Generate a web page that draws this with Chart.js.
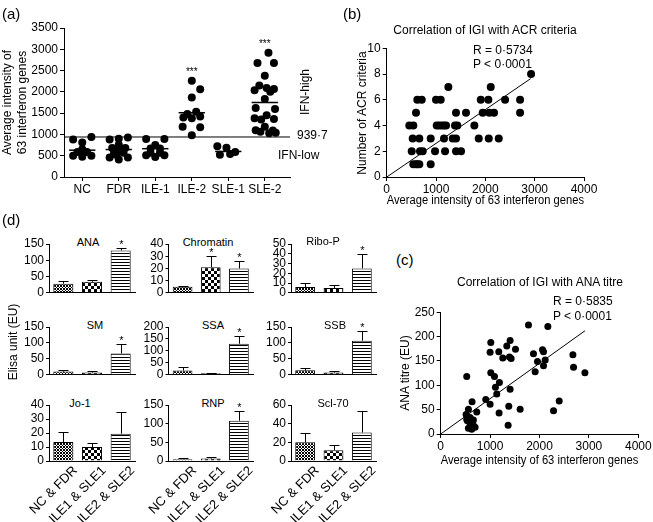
<!DOCTYPE html>
<html>
<head>
<meta charset="utf-8">
<script src="https://cdn.jsdelivr.net/npm/chart.js@4/dist/chart.umd.min.js"></script>
<style>
html, body { margin: 0; padding: 0; background: #fff; }
body { width: 653px; height: 522px; position: relative; overflow: hidden; font-family: "Liberation Sans", Arial, sans-serif; color: #000; }
canvas { position: absolute; }
.t { position: absolute; white-space: nowrap; font-size: 12px; line-height: 1; }
.c { transform: translate(-50%, -50%); }
.l { transform: translateY(-50%); }
.v { transform: translate(-50%, -50%) rotate(-90deg); }
.p { font-size: 15px; }
.s { font-size: 11px; }
</style>
</head>
<body>
<canvas id="chA" style="left:0px;top:0px" width="330" height="200"></canvas>
<canvas id="chB" style="left:335px;top:18px" width="318" height="190"></canvas>
<canvas id="chC" style="left:395px;top:288px" width="258" height="180"></canvas>

<div class="t l p" style="left:2px;top:13px">(a)</div>
<div class="t l" style="left:297px;top:135px">939·7</div>
<div class="t v" style="left:305px;top:92px">IFN-high</div>
<div class="t l" style="left:278px;top:155px">IFN-low</div>

<div class="t l p" style="left:343px;top:13px">(b)</div>
<div class="t c" style="left:485px;top:30px">Correlation of IGI with ACR criteria</div>
<div class="t v" style="left:362px;top:113px">Number of ACR criteria</div>
<div class="t l" style="left:473px;top:50px">R = 0·5734</div>
<div class="t l" style="left:473px;top:64px">P &lt; 0·0001</div>

<div class="t l p" style="left:396px;top:259px">(c)</div>
<div class="t c" style="left:540px;top:282px">Correlation of IGI with ANA titre</div>
<div class="t v" style="left:405px;top:373px">ANA titre (EU)</div>
<div class="t l" style="left:553px;top:301px">R = 0·5835</div>
<div class="t l" style="left:553px;top:316px">P &lt; 0·0001</div>

<div class="t l p" style="left:2px;top:219px">(d)</div>
<div class="t v" style="left:13px;top:342px">Elisa unit (EU)</div>
<div class="t c s" style="left:88px;top:242px">ANA</div>
<div class="t c s" style="left:208px;top:242px">Chromatin</div>
<div class="t c s" style="left:323px;top:241px">Ribo-P</div>
<div class="t c s" style="left:95px;top:325px">SM</div>
<div class="t c s" style="left:213px;top:325px">SSA</div>
<div class="t c s" style="left:335px;top:325px">SSB</div>
<div class="t c s" style="left:80px;top:403px">Jo-1</div>
<div class="t c s" style="left:213px;top:403px">RNP</div>
<div class="t c s" style="left:333px;top:403px">Scl-70</div>

<script>
// ---- (a) IGI per group ----
const groupsA = ['NC', 'FDR', 'ILE-1', 'ILE-2', 'SLE-1', 'SLE-2'];
const ncVals   = [880, 810, 940, 500, 475, 500, 590, 590, 650];
const ncJit    = [-0.25, 0, 0.25, -0.25, 0, 0.25, -0.13, 0.13, 0];
const fdrVals  = [880, 900, 930, 460, 410, 460, 560, 570, 620, 680, 680, 760, 520, 600];
const fdrJit   = [-0.25, 0, 0.25, -0.25, 0, 0.25, -0.13, 0.13, 0, -0.18, 0.18, 0, -0.07, 0.07];
const ile1Vals = [890, 890, 750, 670, 670, 510, 470, 510, 570, 570];
const ile1Jit  = [-0.25, 0.25, 0, -0.13, 0.13, -0.25, 0, 0.25, -0.13, 0.13];
const ile2Vals = [2260, 2060, 1870, 1480, 1420, 1530, 1400, 1180, 1170, 1380, 980];
const ile2Jit  = [0, 0.23, 0, -0.12, 0.23, 0.12, -0.23, -0.25, 0.23, 0, 0];
const sle1Vals = [720, 685, 590, 520, 540];
const sle1Jit  = [-0.3, -0.05, 0.19, -0.23, 0.05];
const sle2Vals = [2920, 2680, 2680, 2380, 2150, 2090, 2070, 2040, 2000, 1830, 1620, 1600, 1450, 1380, 1350, 1360, 1180, 1100, 1090, 1060, 1030, 1040];
const sle2Jit  = [0.1, -0.2, 0.25, 0, -0.15, 0.05, 0.25, -0.28, 0.15, 0, -0.25, 0.28, 0.05, -0.28, -0.1, 0.25, 0, -0.25, 0.22, -0.12, 0.12, 0.3];
const meansA   = [630, 645, 665, 1510, 600, 1750];
const starredA = [false, false, false, true, false, true];
const cutoffA  = 939.7;
const ticksA   = [0, 500, 1000, 1500, 2000, 2500, 3000, 3500];

// ---- (b) IGI vs ACR criteria ----
const acrIgi   = [2927, 1250, 2109, 621, 710, 1000, 1095, 1907, 2061, 2400, 2704,
                  594, 1405, 1608, 1947, 2081, 2176, 2704,
                  458, 540, 1014, 1060, 1115, 1160, 1203, 1385, 1432, 1777,
                  527, 661, 892, 1162, 1339, 1405, 1866, 2069, 2272,
                  507, 675, 730, 980, 1183, 1405, 1507,
                  540, 594, 661, 892, 620];
const acrCount = [8, 7, 7, 6, 6, 6, 6, 6, 6, 6, 6,
                  5, 5, 5, 5, 5, 5, 5,
                  4, 4, 4, 4, 4, 4, 4, 4, 4, 4,
                  3, 3, 3, 3, 3, 3, 3, 3, 3,
                  2, 2, 2, 2, 2, 2, 2,
                  1, 1, 1, 1, 1];
const acrFitX  = [0, 2920];
const acrFitY  = [0, 7.65];
const ticksBx  = [0, 1000, 2000, 3000, 4000];
const ticksBy  = [0, 2, 4, 6, 8, 10];

// ---- (c) IGI vs ANA titre ----
const anaIgi   = [527, 1777, 2169, 1014, 1405, 1338, 1000, 1176, 1257, 1392, 1426, 1514, 1878, 2061, 2081, 1959, 2115, 1912, 2081, 2676,
                  2689, 2919, 1014, 1088, 1189, 1108, 1405, 1135, 912, 635, 561, 730, 1000, 1182, 1378, 1608, 2284, 2399, 1365, 514,
                  527, 595, 662, 561, 628, 696, 649, 540, 600];
const anaTitre = [118, 224, 221, 188, 192, 181, 168, 169, 156, 158, 155, 174, 165, 173, 169, 149, 152, 128, 140, 163,
                  137, 126, 126, 118, 106, 96, 92, 82, 71, 66, 51, 45, 61, 43, 57, 51, 48, 68, 18, 40,
                  30, 34, 29, 12, 10, 14, 22, 27, 20];
const anaFitX  = [0, 2920];
const anaFitY  = [0, 212];
const ticksCy  = [0, 50, 100, 150, 200, 250];

// ---- (d) ELISA units ----
const groupsD = ['NC & FDR', 'ILE1 & SLE1', 'ILE2 & SLE2'];
const anaMean = [28, 34, 130],     anaErr = [35, 40, 138],     anaStar = [0, 0, 1], anaTicks = [0, 50, 100, 150];
const chrMean = [5, 21, 20],       chrErr = [5.6, 30, 26],     chrStar = [0, 1, 1], chrTicks = [0, 10, 20, 30, 40];
const ribMean = [6, 5, 25],        ribErr = [10, 7.5, 40],     ribStar = [0, 0, 1], ribTicks = [0, 10, 20, 30, 40, 50];
const smMean  = [10, 7, 67],       smErr  = [14, 11, 98],      smStar  = [0, 0, 1], smTicks  = [0, 50, 100, 150];
const ssaMean = [18, 7, 130],      ssaErr = [32, 8, 162],      ssaStar = [0, 0, 1], ssaTicks = [0, 50, 100, 150, 200];
const ssbMean = [14, 7, 107],      ssbErr = [20, 11, 136],     ssbStar = [0, 0, 1], ssbTicks = [0, 50, 100, 150];
const joMean  = [13.5, 10, 19.5],  joErr  = [20.5, 13, 35],    joStar  = [0, 0, 0], joTicks  = [0, 10, 20, 30, 40];
const rnpMean = [5, 7, 108],       rnpErr = [9, 10, 133],      rnpStar = [0, 0, 1], rnpTicks = [0, 50, 100, 150];
const sclMean = [20, 11.5, 30.5],  sclErr = [30.5, 17.5, 54],  sclStar = [0, 0, 0], sclTicks = [0, 20, 40, 60];

const FONT = '"Liberation Sans", Arial, Helvetica, sans-serif';
Chart.defaults.font.family = FONT;
Chart.defaults.font.size = 12;
Chart.defaults.color = '#000';
Chart.defaults.animation = false;
Chart.defaults.plugins.legend.display = false;
Chart.defaults.plugins.tooltip.enabled = false;

function fixTicks(list) { return scale => { scale.ticks = list.map(v => ({ value: v })); }; }
function fitW(w) { return scale => { scale.width = w; }; }
function fitH(h) { return scale => { scale.height = h; }; }
const plain = v => String(v);
const blackBorder = { display: true, color: '#000', width: 1 };
const outTicks = (len) => ({ drawOnChartArea: false, drawTicks: true, tickLength: len, color: '#000', lineWidth: 1 });

// (a)
const valsA = [ncVals, fdrVals, ile1Vals, ile2Vals, sle1Vals, sle2Vals];
const jitA = [ncJit, fdrJit, ile1Jit, ile2Jit, sle1Jit, sle2Jit];
const xMinA = 0.5, xMaxA = 6.69;
const dotsA = [];
valsA.forEach((vals, k) => vals.forEach((v, i) => dotsA.push({ x: k + 1 + jitA[k][i], y: v })));
const lineSets = meansA.map((m, k) => ({
  type: 'line', data: [{ x: k + 1 - 0.36, y: m }, { x: k + 1 + 0.36, y: m }],
  borderColor: '#000', borderWidth: 1.5, pointRadius: 0, showLine: true
}));

const starsA = {
  id: 'starsA',
  afterDatasetsDraw(chart) {
    const { ctx, scales: { x, y } } = chart;
    ctx.save();
    ctx.fillStyle = '#000';
    ctx.font = '10px ' + FONT;
    ctx.textAlign = 'center';
    ctx.textBaseline = 'alphabetic';
    starredA.forEach((s, k) => {
      if (!s) return;
      const top = Math.max(...valsA[k]);
      ctx.fillText('***', x.getPixelForValue(k + 1), y.getPixelForValue(top) - 6);
    });
    ctx.restore();
  }
};

new Chart(document.getElementById('chA'), {
  type: 'scatter',
  data: {
    datasets: [
      { data: dotsA, pointRadius: 4, pointBackgroundColor: '#000', pointBorderWidth: 0 },
      ...lineSets,
      { type: 'line', data: [{ x: xMinA, y: cutoffA }, { x: xMaxA, y: cutoffA }], borderColor: '#000', borderWidth: 1, pointRadius: 0, showLine: true }
    ]
  },
  options: {
    responsive: false,
    layout: { padding: { left: 0, top: 28, right: 40, bottom: 0 } },
    scales: {
      x: {
        type: 'linear', min: xMinA, max: xMaxA,
        afterBuildTicks: fixTicks([1, 2, 3, 4, 5, 6]), afterFit: fitH(23),
        ticks: { callback: v => groupsA[v - 1], padding: 1, autoSkip: false, maxRotation: 0 },
        grid: outTicks(4), border: blackBorder
      },
      y: {
        min: 0, max: 3500,
        afterBuildTicks: fixTicks(ticksA), afterFit: fitW(64),
        ticks: { callback: plain, padding: 2, autoSkip: false },
        grid: outTicks(4), border: blackBorder,
        title: { display: true, text: ['Average intensity of', '63 interferon genes'], padding: 0, font: { size: 12, lineHeight: 1.25 } }
      }
    }
  },
  plugins: [starsA]
});

// (b) and (c)
function scatterChart(id, xs, ys, fitX, fitY, yTicks, yMax, pad, yW, xH, r) {
  new Chart(document.getElementById(id), {
    type: 'scatter',
    data: {
      datasets: [
        { data: xs.map((v, i) => ({ x: v, y: ys[i] })), pointRadius: r, pointBackgroundColor: '#000', pointBorderWidth: 0 },
        { type: 'line', data: fitX.map((v, i) => ({ x: v, y: fitY[i] })), borderColor: '#000', borderWidth: 1, pointRadius: 0, showLine: true }
      ]
    },
    options: {
      responsive: false,
      layout: { padding: pad },
      scales: {
        x: {
          type: 'linear', min: 0, max: 4000,
          afterBuildTicks: fixTicks(ticksBx), afterFit: fitH(xH),
          ticks: { callback: plain, padding: 1, autoSkip: false, maxRotation: 0 },
          grid: outTicks(4), border: blackBorder,
          title: { display: true, text: 'Average intensity of 63 interferon genes', padding: 0, font: { size: 12 } }
        },
        y: {
          min: 0, max: yMax,
          afterBuildTicks: fixTicks(yTicks), afterFit: fitW(yW),
          ticks: { callback: plain, padding: 2, autoSkip: false },
          grid: outTicks(4), border: blackBorder
        }
      }
    }
  });
}
scatterChart('chB', acrIgi, acrCount, acrFitX, acrFitY, ticksBy, 10,
  { left: 19.8, top: 30.3, right: 69, bottom: 0 }, 31.9, 30.9, 4);
scatterChart('chC', anaIgi, anaTitre, anaFitX, anaFitY, ticksCy, 250,
  { left: 12.8, top: 24.3, right: 14.7, bottom: 0 }, 32.9, 34, 3.5);

// (d) small bar charts
function tile(kind) {
  const c = document.createElement('canvas');
  const g = c.getContext('2d');
  if (kind === 0) {
    c.width = 3; c.height = 3;
    g.fillStyle = '#fff'; g.fillRect(0, 0, 3, 3);
    g.fillStyle = '#000';
    [[0, 0], [1, 1], [2, 2], [0, 2], [2, 0]].forEach(([a, b]) => g.fillRect(a, b, 1, 1));
  } else if (kind === 1) {
    c.width = 6; c.height = 6;
    g.fillStyle = '#fff'; g.fillRect(0, 0, 6, 6);
    g.fillStyle = '#000'; g.fillRect(0, 0, 3, 3); g.fillRect(3, 3, 3, 3);
  } else {
    c.width = 3; c.height = 3;
    g.fillStyle = '#fff'; g.fillRect(0, 0, 3, 3);
    g.fillStyle = '#000'; g.fillRect(0, 0, 3, 1);
  }
  return c;
}

function errPlugin(errs, stars) {
  return {
    id: 'errbars',
    afterDatasetsDraw(chart) {
      const ctx = chart.ctx, y = chart.scales.y;
      const bars = chart.getDatasetMeta(0).data;
      ctx.save();
      ctx.strokeStyle = '#000'; ctx.fillStyle = '#000'; ctx.lineWidth = 1;
      bars.forEach((b, i) => {
        const bx = Math.round(b.x) + 0.5;
        const yt = Math.round(y.getPixelForValue(errs[i])) + 0.5;
        ctx.beginPath();
        ctx.moveTo(bx, b.y); ctx.lineTo(bx, yt);
        ctx.moveTo(bx - 5, yt); ctx.lineTo(bx + 5, yt);
        ctx.stroke();
        if (stars[i]) {
          ctx.font = '11px ' + FONT;
          ctx.textAlign = 'center'; ctx.textBaseline = 'alphabetic';
          ctx.fillText('*', bx, yt - 1);
        }
      });
      ctx.restore();
    }
  };
}

const colAxis = [49, 168.5, 291], colRight = [135, 253, 376];
const rowTop = [244, 327, 405], rowBottom = [300, 382, 461];
const dPanels = [
  [anaMean, anaErr, anaStar, anaTicks], [chrMean, chrErr, chrStar, chrTicks], [ribMean, ribErr, ribStar, ribTicks],
  [smMean, smErr, smStar, smTicks],     [ssaMean, ssaErr, ssaStar, ssaTicks], [ssbMean, ssbErr, ssbStar, ssbTicks],
  [joMean, joErr, joStar, joTicks],     [rnpMean, rnpErr, rnpStar, rnpTicks], [sclMean, sclErr, sclStar, sclTicks]
];

dPanels.forEach(([mean, err, star, ticks], n) => {
  const col = n % 3, row = Math.floor(n / 3);
  const last = row === 2;
  const yW = 30, padT = 12, padR = 6, xH = last ? 61 : 2;
  const left = Math.round(colAxis[col]) - 48;
  const top = rowTop[row] - padT;
  const w = Math.round(colRight[col] - left + padR);
  const h = Math.round(padT + rowBottom[row] - rowTop[row] + xH);
  const cv = document.createElement('canvas');
  cv.width = w; cv.height = h;
  cv.style.left = left + 'px'; cv.style.top = top + 'px';
  document.body.appendChild(cv);
  const ctx = cv.getContext('2d');
  const fills = [0, 1, 2].map(k => ctx.createPattern(tile(k), 'repeat'));
  new Chart(cv, {
    type: 'bar',
    data: {
      labels: groupsD,
      datasets: [{ data: mean, backgroundColor: fills, borderColor: '#000', borderWidth: 1, barPercentage: 0.7, categoryPercentage: 1 }]
    },
    options: {
      responsive: false,
      layout: { padding: { left: colAxis[col] - left - yW, top: padT, right: w - (colRight[col] - left), bottom: 0 } },
      scales: {
        x: {
          afterFit: fitH(xH),
          ticks: { display: last, minRotation: 45, maxRotation: 45, padding: -6, labelOffset: 12, autoSkip: false, font: { size: 13 } },
          grid: { display: false }, border: blackBorder
        },
        y: {
          min: 0, max: ticks[ticks.length - 1],
          afterBuildTicks: fixTicks(ticks), afterFit: fitW(yW),
          ticks: { callback: plain, padding: 2, autoSkip: false, font: { size: 12 } },
          grid: outTicks(3), border: blackBorder
        }
      }
    },
    plugins: [errPlugin(err, star)]
  });
});
</script>
</body>
</html>
